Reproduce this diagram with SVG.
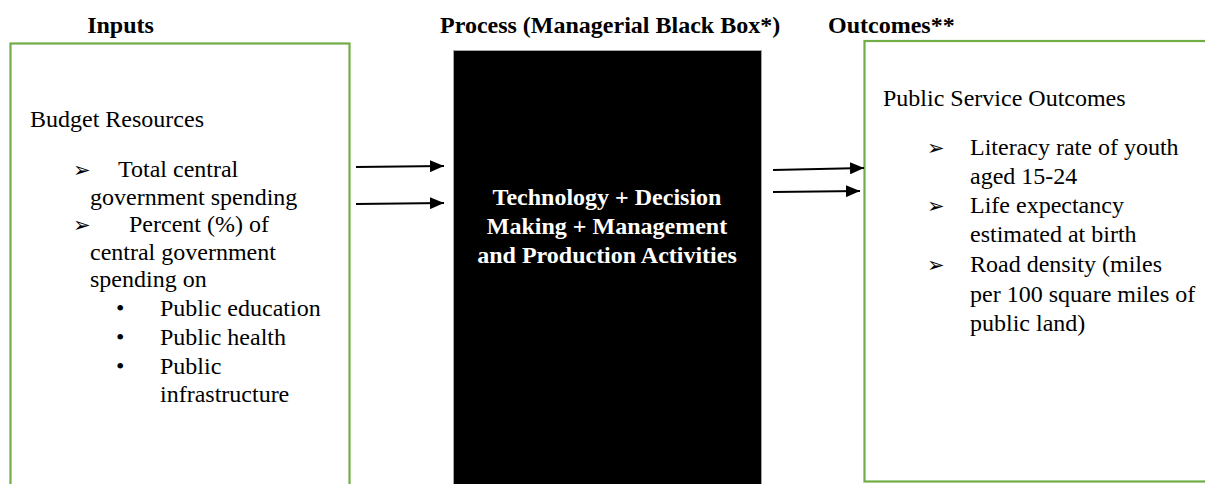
<svg xmlns="http://www.w3.org/2000/svg" width="1205" height="484" viewBox="0 0 1205 484">
<style>
.h{font-family:"Liberation Serif","Times New Roman",serif;font-weight:bold;font-size:24px;fill:#000}
.t{font-family:"Liberation Serif","Times New Roman",serif;font-size:24px;fill:#000}
.w{font-family:"Liberation Serif","Times New Roman",serif;font-weight:bold;font-size:24px;fill:#fff}
.ar{font-family:"DejaVu Sans",sans-serif;font-size:21px;fill:#000}
.box{fill:#fff;stroke:#70AD47;stroke-width:2.2}
.conn{stroke:#000;stroke-width:2.2;fill:none}
</style>
<defs>
<marker id="ah" markerUnits="userSpaceOnUse" markerWidth="14" markerHeight="12" refX="14" refY="6" orient="auto">
<path d="M0,0 L14,6 L0,12 z" fill="#000"/>
</marker>
</defs>
<rect width="1205" height="484" fill="#fff"/>
<g id="headings">
<text class="h" x="120.5" y="33" text-anchor="middle">Inputs</text>
<text class="h" x="440" y="33">Process (Managerial Black Box*)</text>
<text class="h" x="828" y="33">Outcomes**</text>
</g>
<g id="inputs">
<rect class="box" x="10.5" y="43.5" width="339" height="460"/>
<text class="t" x="30" y="127">Budget Resources</text>
<text class="ar" x="73" y="177">➢</text>
<text class="t" x="118" y="177">Total central</text>
<text class="t" x="90" y="204.5">government spending</text>
<text class="ar" x="73" y="232">➢</text>
<text class="t" x="129" y="232">Percent (%) of</text>
<text class="t" x="90" y="259.5">central government</text>
<text class="t" x="90" y="287">spending on</text>
<text class="t" x="116" y="316">•</text>
<text class="t" x="160" y="316">Public education</text>
<text class="t" x="116" y="345">•</text>
<text class="t" x="160" y="345">Public health</text>
<text class="t" x="116" y="374">•</text>
<text class="t" x="160" y="374">Public</text>
<text class="t" x="160" y="402">infrastructure</text>
</g>
<g id="process">
<rect x="453.5" y="50.5" width="308" height="450" fill="#000" stroke="#a6a6a6" stroke-width="1"/>
<text class="w" x="607" y="205" text-anchor="middle">Technology + Decision</text>
<text class="w" x="607" y="234" text-anchor="middle">Making + Management</text>
<text class="w" x="607" y="263" text-anchor="middle">and Production Activities</text>
</g>
<g id="outcomes">
<rect class="box" x="864.5" y="41" width="360" height="440.5"/>
<text class="t" x="883" y="106">Public Service Outcomes</text>
<text class="ar" x="927" y="155">➢</text>
<text class="t" x="970" y="155">Literacy rate of youth</text>
<text class="t" x="970" y="184">aged 15-24</text>
<text class="ar" x="927" y="213">➢</text>
<text class="t" x="970" y="213">Life expectancy</text>
<text class="t" x="970" y="242">estimated at birth</text>
<text class="ar" x="927" y="272">➢</text>
<text class="t" x="970" y="272">Road density (miles</text>
<text class="t" x="970" y="302">per 100 square miles of</text>
<text class="t" x="970" y="331">public land)</text>
</g>
<g id="connectors">
<line class="conn" x1="356" y1="167" x2="444" y2="166" marker-end="url(#ah)"/>
<line class="conn" x1="356" y1="204" x2="444" y2="203" marker-end="url(#ah)"/>
<line class="conn" x1="773" y1="170" x2="864" y2="168" marker-end="url(#ah)"/>
<line class="conn" x1="773" y1="192" x2="860" y2="191" marker-end="url(#ah)"/>
</g>
</svg>
